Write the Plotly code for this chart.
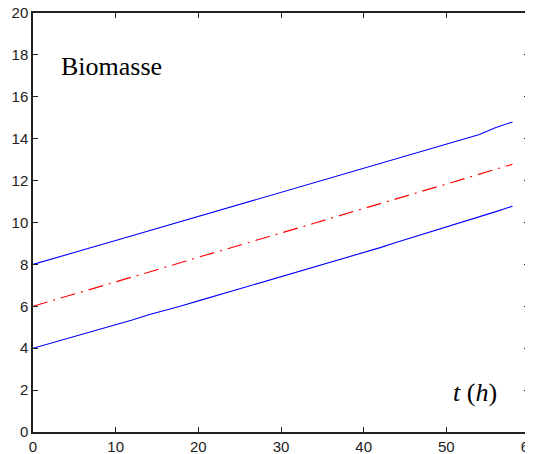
import plotly.graph_objects as go

# time (h) and biomass curves
t = list(range(0, 60, 2))
upper = [8.00, 8.22, 8.45, 8.68, 8.91, 9.14, 9.37, 9.60, 9.83, 10.06,
         10.29, 10.51, 10.73, 10.96, 11.19, 11.42, 11.65, 11.88, 12.10, 12.33,
         12.56, 12.79, 13.02, 13.26, 13.49, 13.72, 13.95, 14.20, 14.54, 14.80]
middle = [6.00, 6.23, 6.47, 6.70, 6.94, 7.17, 7.40, 7.64, 7.87, 8.10,
          8.34, 8.57, 8.80, 9.03, 9.26, 9.47, 9.72, 9.96, 10.20, 10.43,
          10.66, 10.90, 11.13, 11.37, 11.60, 11.84, 12.07, 12.31, 12.55, 12.78]
lower = [4.00, 4.22, 4.45, 4.68, 4.90, 5.13, 5.35, 5.60, 5.80, 6.03,
         6.26, 6.49, 6.72, 6.95, 7.18, 7.41, 7.64, 7.87, 8.10, 8.33,
         8.56, 8.80, 9.06, 9.30, 9.54, 9.78, 10.02, 10.26, 10.52, 10.78]

fig = go.Figure()

fig.add_trace(go.Scatter(x=t, y=upper, mode='lines',
                         line=dict(color='#0000ff', width=1.1)))
fig.add_trace(go.Scatter(x=t, y=middle, mode='lines',
                         line=dict(color='#ff0000', width=1.1, dash='15px,6px,2px,6px')))
fig.add_trace(go.Scatter(x=t, y=lower, mode='lines',
                         line=dict(color='#0000ff', width=1.1)))

axis_style = dict(
    showline=True, linecolor='#222', linewidth=1.5, mirror='ticks',
    ticks='inside', ticklen=5, tickcolor='#222', showgrid=False, zeroline=False,
    automargin=False, ticklabeloverflow='allow',
    tickfont=dict(family='Liberation Sans, Arial', size=15, color='#222'),
)

# the page puts the plot 8px in from the top-left corner, so size it to fit
fig.update_layout(
    width=525, height=446,
    margin=dict(l=25, r=4, t=5, b=22),
    paper_bgcolor='white', plot_bgcolor='white',
    showlegend=False,
    xaxis=dict(range=[0, 60], dtick=10, **axis_style),
    yaxis=dict(range=[0, 20], dtick=2, **axis_style),
    annotations=[
        dict(x=3.2, y=17.45, xref='x', yref='y', text='Biomasse', showarrow=False,
             xanchor='left', yanchor='middle',
             font=dict(family='Liberation Serif, Times New Roman', size=26, color='black')),
        dict(x=56.4, y=1.9, xref='x', yref='y', text='<i>t</i> (<i>h</i>)', showarrow=False,
             xanchor='right', yanchor='middle',
             font=dict(family='Liberation Serif, Times New Roman', size=26, color='black')),
    ],
)

fig.write_html("out.html")
